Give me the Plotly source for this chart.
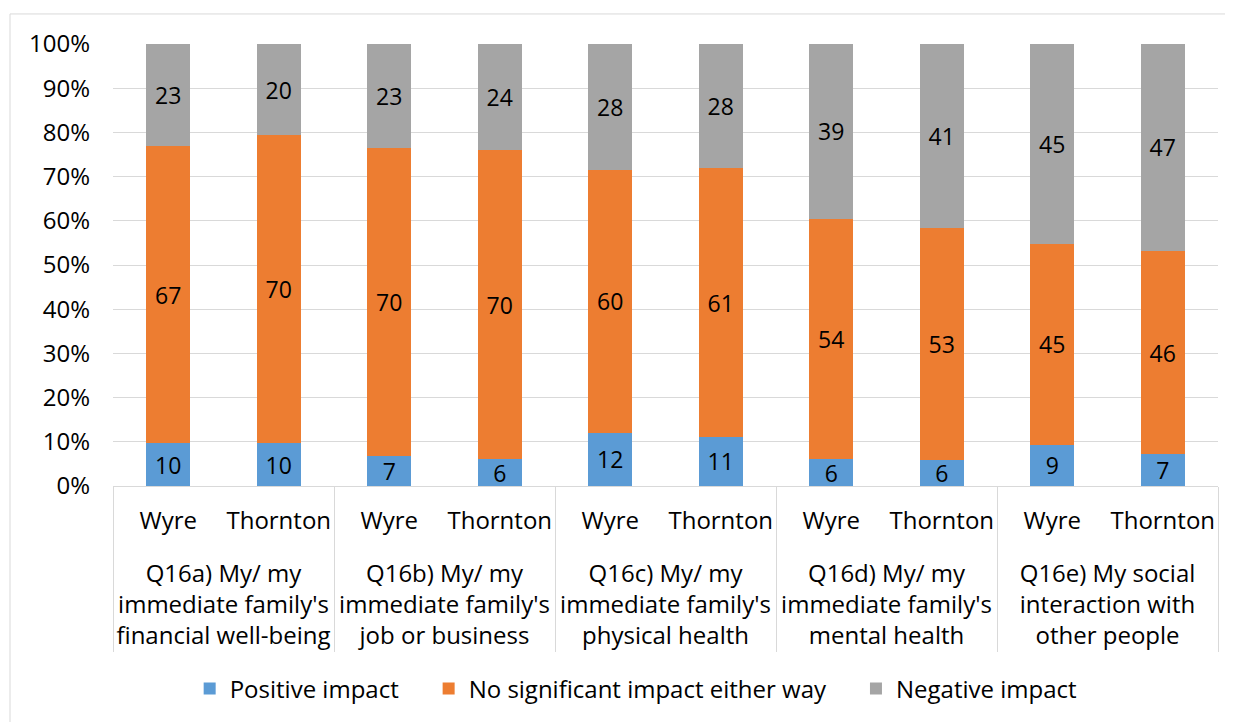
import plotly.graph_objects as go

# ---------------------------------------------------------------------------
# Data (shares; labels are the printed rounded values)
# ---------------------------------------------------------------------------
GROUPS = [
    "Q16a) My/ my<br>immediate family's<br>financial well-being",
    "Q16b) My/ my<br>immediate family's<br>job or business",
    "Q16c) My/ my<br>immediate family's<br>physical health",
    "Q16d) My/ my<br>immediate family's<br>mental health",
    "Q16e) My social<br>interaction with<br>other people",
]
AREAS = ["Wyre", "Thornton"]

positive = [9.7, 9.7, 6.9, 6.1, 12.0, 11.1, 6.1, 5.9, 9.3, 7.2]
no_impact = [67.2, 69.7, 69.6, 69.9, 59.5, 60.8, 54.4, 52.5, 45.5, 46.0]
negative = [23.1, 20.6, 23.5, 24.0, 28.5, 28.1, 39.5, 41.6, 45.2, 46.8]

positive_lbl = [10, 10, 7, 6, 12, 11, 6, 6, 9, 7]
no_impact_lbl = [67, 70, 70, 70, 60, 61, 54, 53, 45, 46]
negative_lbl = [23, 20, 23, 24, 28, 28, 39, 41, 45, 47]

SERIES = [
    ("Positive impact", positive, positive_lbl, "#5b9bd5"),
    ("No significant impact either way", no_impact, no_impact_lbl, "#ed7d31"),
    ("Negative impact", negative, negative_lbl, "#a5a5a5"),
]

FONT = "Open Sans, Liberation Sans, sans-serif"
FS = 24
FS_LBL = 23
PAD = "\u00a0" * 4  # widen the gaps between legend entries

# leading blank line pushes the group labels below the sub-labels
x_groups = [" <br>" + g for g in GROUPS for _ in AREAS]
x_areas = AREAS * len(GROUPS)

fig = go.Figure()
for i, (name, vals, lbls, color) in enumerate(SERIES):
    fig.add_trace(go.Bar(
        x=[x_groups, x_areas],
        y=vals,
        name=name + (PAD if i < len(SERIES) - 1 else ""),
        marker=dict(color=color, line=dict(width=0)),
        text=[str(v) for v in lbls],
        textposition="inside",
        insidetextanchor="middle",
        textangle=0,
        textfont=dict(color="#000000", size=FS_LBL, family=FONT),
        constraintext="none",
    ))

# page body has an 8px margin, so positions are offset by that
fig.update_layout(
    barmode="stack",
    barnorm="percent",
    bargap=0.6,
    width=1233,
    height=722,
    paper_bgcolor="#ffffff",
    plot_bgcolor="#ffffff",
    font=dict(family=FONT, size=FS, color="#000000"),
    margin=dict(l=105, r=23, t=36, b=244, autoexpand=False),
    showlegend=True,
    legend=dict(
        orientation="h",
        x=0.473, xanchor="center",
        y=-0.459, yanchor="middle",
        traceorder="normal",
        itemwidth=30,
        font=dict(size=FS, family=FONT),
    ),
    shapes=[dict(
        type="rect", xref="paper", yref="paper",
        x0=-0.0932, x1=1.1, y0=-0.8, y1=1.068,
        line=dict(color="#d9d9d9", width=1),
        layer="below",
    )],
)

fig.update_yaxes(
    range=[0, 100],
    tickvals=list(range(0, 101, 10)),
    ticktext=[f"{v}%" for v in range(0, 101, 10)],
    showgrid=True,
    gridcolor="#d9d9d9",
    gridwidth=1,
    zeroline=False,
    showline=False,
    ticks="",
    ticklen=0,
    ticklabelstandoff=22,
    tickfont=dict(size=FS, family=FONT),
    automargin=False,
)
fig.update_xaxes(
    type="multicategory",
    showline=True,
    linecolor="#d9d9d9",
    linewidth=1,
    showdividers=True,
    dividercolor="#d9d9d9",
    dividerwidth=1,
    ticks="",
    tickangle=0,
    ticklabelstandoff=13,
    tickfont=dict(size=FS, family=FONT),
    automargin=False,
)

fig.write_html("out.html")
